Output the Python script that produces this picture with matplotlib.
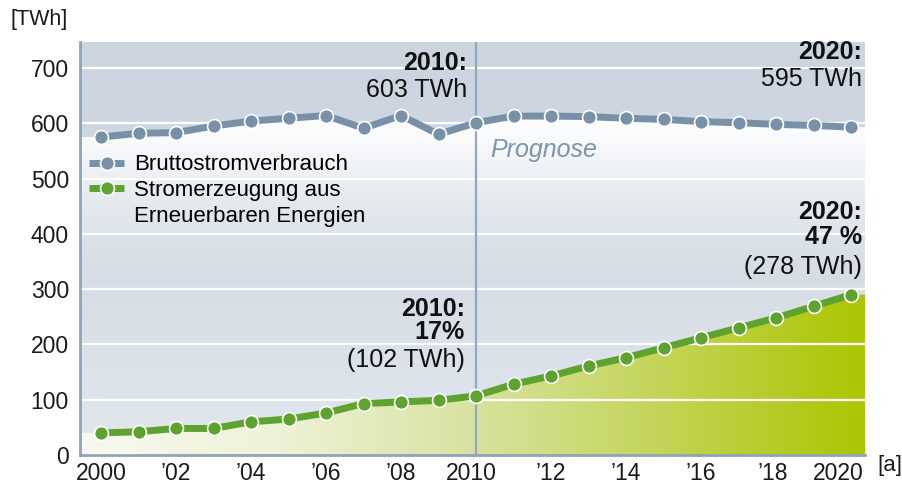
import numpy as np
import matplotlib.pyplot as plt
from matplotlib.colors import LinearSegmentedColormap
from matplotlib.lines import Line2D
from matplotlib.transforms import ScaledTranslation

plt.rcParams['font.family'] = ['Liberation Sans', 'DejaVu Sans']

# Daten (TWh)
years = list(range(2000, 2021))
brutto = [575, 582, 583, 595, 604, 609, 614, 591, 614, 580, 601,
          613, 613, 612, 609, 607, 603, 601, 598, 596, 593]
erneuerbar = [40, 42, 48, 48, 60, 65, 76, 93, 96, 99, 107,
              128, 143, 161, 176, 194, 212, 230, 248, 269, 290]
xtick_pos = list(range(2000, 2021, 2))
xtick_lab = ['2000', '\u201902', '\u201904', '\u201906', '\u201908', '2010',
             '\u201912', '\u201914', '\u201916', '\u201918', '2020']
ytick_pos = list(range(0, 701, 100))

grau = '#7891a9'
gruen = '#5ea22f'
XMIN, XMAX = 1999.44, 2020.37
YMIN, YMAX = 0, 747

fig = plt.figure(figsize=(9.03, 4.84), dpi=100)
ax = fig.add_axes([80 / 903, 29 / 484, 785 / 903, 413 / 484])


def clipped_image(ax, rgba, extent, path_coll, zorder):
    im = ax.imshow(rgba, extent=extent, origin='lower', aspect='auto',
                   interpolation='bicubic', zorder=zorder)
    im.set_clip_path(path_coll.get_paths()[0], ax.transData)
    return im


# Hintergrund: vertikaler Verlauf
bg = LinearSegmentedColormap.from_list('bg', ['#e2e7ed', '#d3dbe4', '#cbd4df'])
bg_img = bg(np.linspace(0, 1, 256)).reshape(256, 1, 4)
ax.imshow(bg_img, extent=[XMIN, XMAX, YMIN, YMAX], origin='lower',
          aspect='auto', zorder=0)

# heller Verlauf unter dem Bruttostromverbrauch
xs_ext = [XMIN] + years + [XMAX]
brutto_ext = [brutto[0]] + brutto + [brutto[-1]]
poly_g = ax.fill_between(xs_ext, 0, brutto_ext, facecolor='none', edgecolor='none')
a = np.clip((np.linspace(0, 1, 256) - 0.5) / 0.45, 0, 1) ** 1.2
white = np.ones((256, 1, 4))
white[:, 0, 3] = a * 0.95
clipped_image(ax, white, [XMIN, XMAX, 0, 620], poly_g, 1)

# gruener Verlauf unter den Erneuerbaren
gr_ext = [erneuerbar[0]] + erneuerbar + [erneuerbar[-1]]
poly_e = ax.fill_between(xs_ext, 0, gr_ext, facecolor='none', edgecolor='none')
gcm = LinearSegmentedColormap.from_list(
    'gr', [(0, '#f7f9f0'), (0.25, '#eef2d6'), (0.5, '#d8e2a0'),
           (0.75, '#c2d454'), (1, '#acc502')])
g_img = gcm(np.linspace(0, 1, 256)).reshape(1, 256, 4)
clipped_image(ax, g_img, [XMIN, XMAX, 0, 300], poly_e, 1.5)

# Gitter, Prognose-Linie
for yv in ytick_pos[1:]:
    ax.axhline(yv, color='white', lw=1.6, zorder=2.5)
ax.axvline(2010, color='#93a8bc', lw=1.6, zorder=2.6)

# Linien
style = dict(lw=5, marker='o', ms=10, mec='white', mew=1.2,
             solid_capstyle='butt', zorder=4)
ax.plot(years, brutto, color=grau, mfc=grau, **style)
ax.plot(years, erneuerbar, color=gruen, mfc=gruen, **style)

ax.set_xlim(XMIN, XMAX)
ax.set_ylim(YMIN, YMAX)
ax.set_xticks(xtick_pos)
ax.set_xticklabels(xtick_lab)
ax.set_yticks(ytick_pos)
ax.tick_params(length=0, labelsize=16.5, colors='#1a1a1a')
ax.tick_params(axis='y', pad=8)
ax.tick_params(axis='x', pad=5)
# die Jahreszahlen 2010 / 2020 stehen etwas links vom Punkt
for lab, dx in zip(ax.get_xticklabels(), [0, 0, 0, 0, 0, -5, 0, 0, 0, -3, -13]):
    lab.set_transform(lab.get_transform() + ScaledTranslation(dx / 100, 0, fig.dpi_scale_trans))
for s in ['top', 'right']:
    ax.spines[s].set_visible(False)
for s in ['left', 'bottom']:
    ax.spines[s].set_color('#8ea4b9')
    ax.spines[s].set_linewidth(2)
    ax.spines[s].set_zorder(5)

# Legende
handles = [Line2D([], [], color=grau, mfc=grau, **style),
           Line2D([], [], color=gruen, mfc=gruen, **style),
           Line2D([], [], color='none')]
ax.legend(handles, ['Bruttostromverbrauch', 'Stromerzeugung aus',
                    'Erneuerbaren Energien'],
          loc='upper left', bbox_to_anchor=(0.012, 0.728), frameon=False,
          fontsize=16, borderpad=0, borderaxespad=0, handlelength=1.55,
          handletextpad=0.45, labelspacing=0.22)

# Beschriftungen
txt = dict(ha='right', va='center', fontsize=18, color='#111111', zorder=6)
ax.text(2009.76, 709, '2010:', fontweight='bold', **txt)
ax.text(2009.76, 660, '603 TWh', **txt)
ax.text(2020.29, 729, '2020:', fontweight='bold', **txt)
ax.text(2020.29, 680, '595 TWh', **txt)
ax.text(2009.7, 264, '2010:', fontweight='bold', **txt)
ax.text(2009.7, 222, '17%', fontweight='bold', **txt)
ax.text(2009.7, 172, '(102 TWh)', **txt)
ax.text(2020.29, 439, '2020:', fontweight='bold', **txt)
ax.text(2020.29, 394, '47 %', fontweight='bold', **txt)
ax.text(2020.29, 340, '(278 TWh)', **txt)
ax.text(2010.37, 552, 'Prognose', ha='left', va='center', fontsize=18,
        style='italic', color='#7b95ad', zorder=6)

fig.text(10 / 903, 1 - 20 / 484, '[TWh]', ha='left', va='center',
         fontsize=15.5, color='#1a1a1a')
fig.text(877 / 903, 1 - 465 / 484, '[a]', ha='left', va='center',
         fontsize=16, color='#1a1a1a')

fig.savefig('out.png', dpi=100)
